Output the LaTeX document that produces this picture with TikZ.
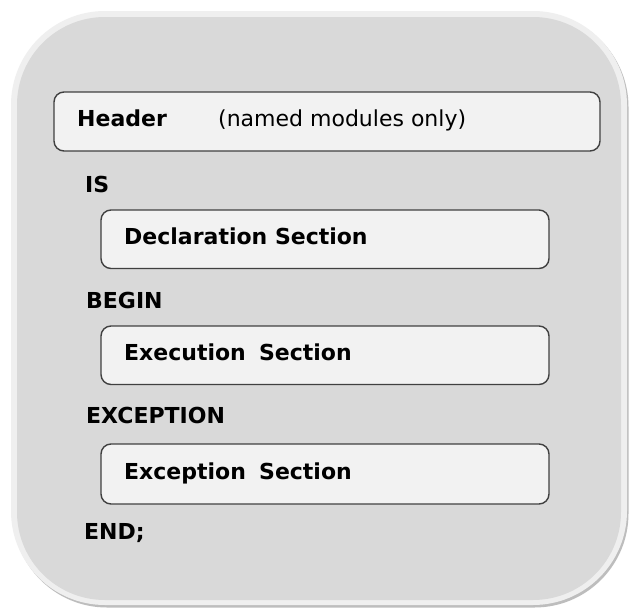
\documentclass[tikz,border=0pt]{standalone}
\usepackage{fontspec}
\setmainfont{DejaVu Sans}
\definecolor{outerfill}{HTML}{D9D9D9}
\definecolor{outerrim}{HTML}{EFEFEF}
\definecolor{shadowc}{HTML}{BDBDBD}
\definecolor{boxfill}{HTML}{F2F2F2}
\definecolor{boxline}{HTML}{404040}
\begin{document}
\begin{tikzpicture}[x=1pt,y=-1pt,
  secbox/.style={draw=boxline, line width=1.4pt, fill=boxfill, rounded corners=10pt},
  kw/.style={anchor=base west, inner sep=0pt, font=\fontsize{22}{26}\selectfont\bfseries},
  plain/.style={anchor=base west, inner sep=0pt, font=\fontsize{22}{26}\selectfont}]
\useasboundingbox (0,0) rectangle (629,608);
\fill[white] (0,0) rectangle (629,608);
% outer block
\fill[shadowc, rounded corners=94pt] (13,13) rectangle (628.5,607.5);
\fill[outerrim, rounded corners=94pt] (11,11) rectangle (627,605);
\fill[outerfill, rounded corners=88pt] (17,17) rectangle (621,600);
% section boxes
\draw[secbox] (54,92) rectangle (600,151);
\draw[secbox] (101,210) rectangle (549,268.5);
\draw[secbox] (101,326) rectangle (549,384.5);
\draw[secbox] (101,444) rectangle (549,504);
% texts
\node[kw] (hdr) at (77,126) {Header};
\node[plain] (hdrnote) at (218,126) {(named modules only)};
\node[kw] (is) at (85,192) {IS};
\node[kw] (decl) at (124,244) {Declaration Section};
\node[kw] (begin) at (86,308) {BEGIN};
\node[kw] (exec) at (124,360) {Execution\hspace{0.6em}Section};
\node[kw] (exc) at (86,423) {EXCEPTION};
\node[kw] (excsec) at (124,479) {Exception\hspace{0.6em}Section};
\node[kw] (end) at (84,539) {END;};
\end{tikzpicture}
\end{document}
